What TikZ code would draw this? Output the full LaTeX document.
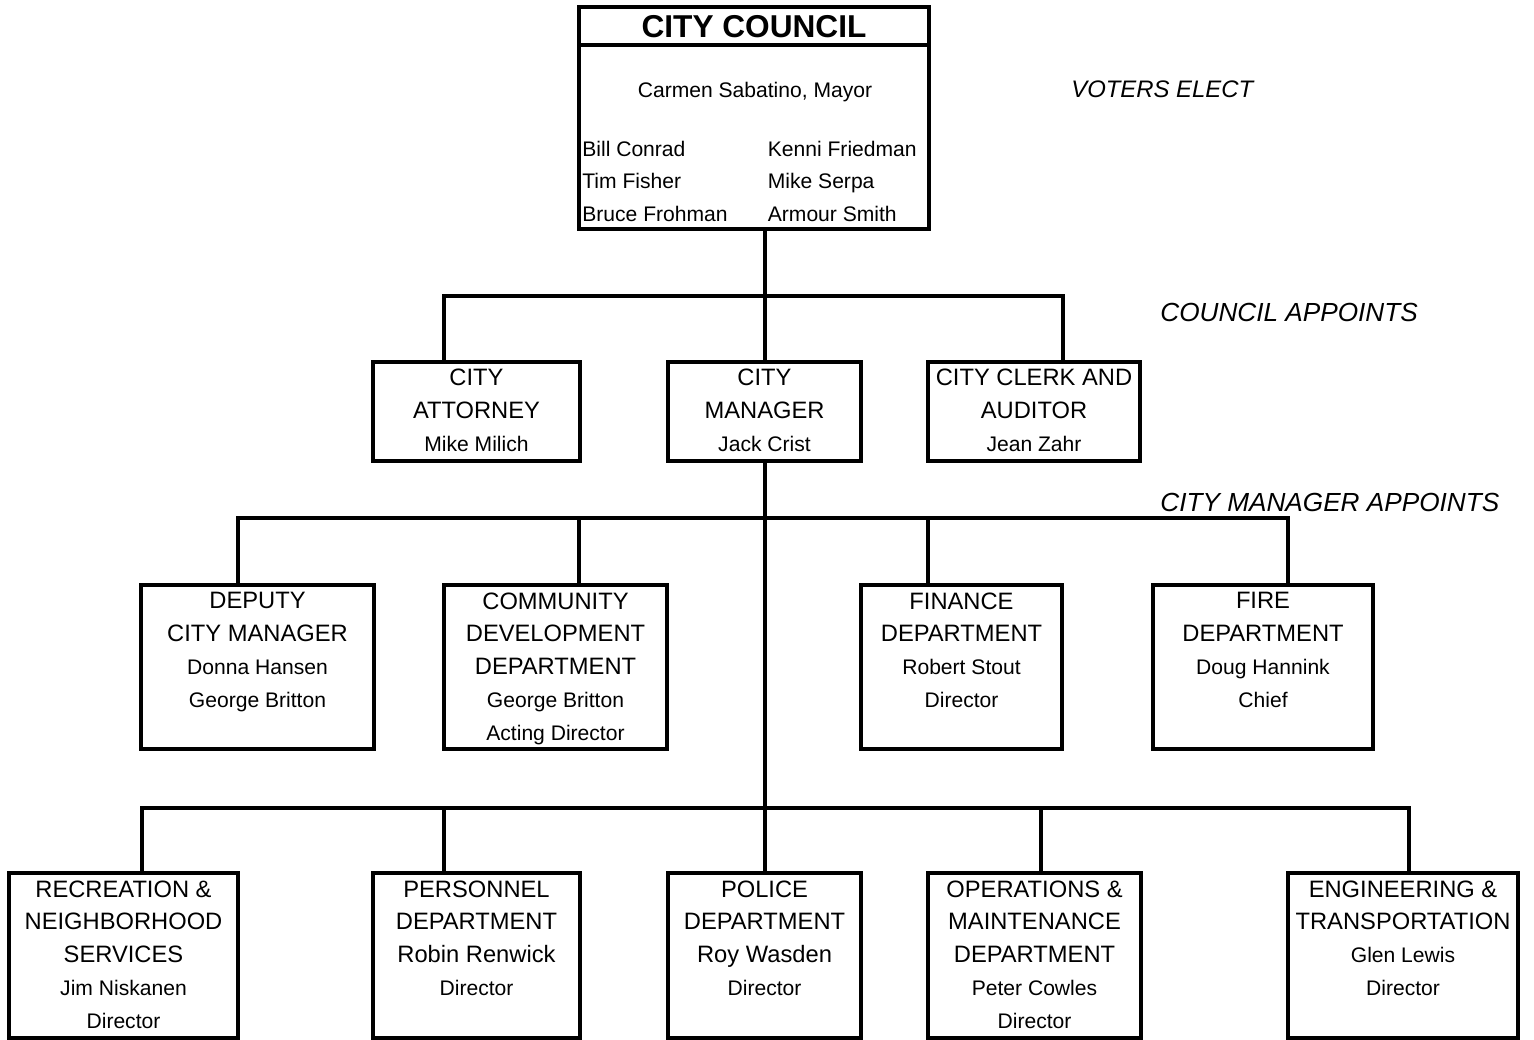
\documentclass[tikz,border=0pt]{standalone}
\usepackage{fontspec}
\setmainfont{Liberation Sans}
\usepackage{tikz}
\usetikzlibrary{positioning, calc}
\newcommand{\nm}[1]{{\fontsize{12}{18.7}\selectfont #1}}
\tikzset{
    unit/.style={draw, rectangle, line width=2.2pt, inner sep=0pt},
    head/.style={anchor=north, align=center, inner sep=0pt, font=\fontsize{13.5}{18.7}\selectfont},
    members/.style={anchor=north west, align=left, inner sep=0pt, font=\fontsize{12}{18.7}\selectfont},
    side/.style={anchor=west, inner sep=0pt, font=\itshape\fontsize{14.9}{18}\selectfont},
    conn/.style={-, line width=2.2pt},
}
\begin{document}
\begin{tikzpicture}[x=0.02cm, y=-0.02cm]
        \useasboundingbox (0,0) rectangle (1534,1040);

        % council
        \node [unit, minimum width=7cm, minimum height=4.44cm] (council) at (754,118) {};
        \draw [conn] ($(council.north west)+(0,40)$) -- ($(council.north east)+(0,40)$);
        \node [inner sep=0pt, font=\bfseries\fontsize{18}{20}\selectfont] (cctitle) at (754,27) {CITY COUNCIL};
        \node [anchor=base, inner sep=0pt, font=\fontsize{12}{18.7}\selectfont] (mayor) at (755,97.5) {Carmen Sabatino, Mayor};
        \node [members] (mleft) at (582,140.5) {Bill Conrad\\Tim Fisher\\Bruce Frohman};
        \node [members] (mright) at (767.5,140.5) {Kenni Friedman\\Mike Serpa\\Armour Smith};

        % council appoints
        \node [unit, minimum width=4.14cm, minimum height=1.98cm] (att) at (476.5,411.5) {};
        \node [unit, minimum width=3.86cm, minimum height=1.98cm] (mgr) at (764.5,411.5) {};
        \node [unit, minimum width=4.24cm, minimum height=1.98cm] (clerk) at (1034,411.5) {};
        \node [head] (attT) at ($(att.north)+(0,9)$) {CITY\\ATTORNEY\\\nm{Mike Milich}};
        \node [head] (mgrT) at ($(mgr.north)+(0,9)$) {CITY\\MANAGER\\\nm{Jack Crist}};
        \node [head] (clerkT) at ($(clerk.north)+(0,9)$) {CITY CLERK AND\\AUDITOR\\\nm{Jean Zahr}};

        % manager appoints
        \node [unit, minimum width=4.66cm, minimum height=3.28cm] (deputy) at (257.5,667) {};
        \node [unit, minimum width=4.46cm, minimum height=3.28cm] (comdev) at (555.5,667) {};
        \node [unit, minimum width=4.02cm, minimum height=3.28cm] (finance) at (961.5,667) {};
        \node [unit, minimum width=4.40cm, minimum height=3.28cm] (fire) at (1263,667) {};
        \node [head] (deputyT) at ($(deputy.north)+(0,9)$) {DEPUTY\\CITY MANAGER\\\nm{Donna Hansen}\\\nm{George Britton}};
        \node [head] (comdevT) at ($(comdev.north)+(0,9)$) {COMMUNITY\\DEVELOPMENT\\DEPARTMENT\\\nm{George Britton}\\\nm{Acting Director}};
        \node [head] (financeT) at ($(finance.north)+(0,9)$) {FINANCE\\DEPARTMENT\\\nm{Robert Stout}\\\nm{Director}};
        \node [head] (fireT) at ($(fire.north)+(0,9)$) {FIRE\\DEPARTMENT\\\nm{Doug Hannink}\\\nm{Chief}};

        \node [unit, minimum width=4.58cm, minimum height=3.30cm] (rec) at (123.5,955.5) {};
        \node [unit, minimum width=4.14cm, minimum height=3.30cm] (pers) at (476.5,955.5) {};
        \node [unit, minimum width=3.86cm, minimum height=3.30cm] (police) at (764.5,955.5) {};
        \node [unit, minimum width=4.26cm, minimum height=3.30cm] (ops) at (1034.5,955.5) {};
        \node [unit, minimum width=4.60cm, minimum height=3.30cm] (eng) at (1403,955.5) {};
        \node [head] (recT) at ($(rec.north)+(0,9)$) {RECREATION \&\\NEIGHBORHOOD\\SERVICES\\\nm{Jim Niskanen}\\\nm{Director}};
        \node [head] (persT) at ($(pers.north)+(0,9)$) {PERSONNEL\\DEPARTMENT\\Robin Renwick\\\nm{Director}};
        \node [head] (policeT) at ($(police.north)+(0,9)$) {POLICE\\DEPARTMENT\\Roy Wasden\\\nm{Director}};
        \node [head] (opsT) at ($(ops.north)+(0,9)$) {OPERATIONS \&\\MAINTENANCE\\DEPARTMENT\\\nm{Peter Cowles}\\\nm{Director}};
        \node [head] (engT) at ($(eng.north)+(0,9)$) {ENGINEERING \&\\TRANSPORTATION\\\nm{Glen Lewis}\\\nm{Director}};

        \node [side, font=\itshape\fontsize{13.6}{18}\selectfont] (voters) at (1071,89) {VOTERS ELECT};
        \node [side] (capp) at (1160,312) {COUNCIL APPOINTS};
        \node [side] (mapp) at (1160,502) {CITY MANAGER APPOINTS};

        \coordinate (u1) at (444,296);
        \coordinate (u2) at (765,296);
        \coordinate (u3) at (1063,296);
        \coordinate (v1) at (238,518);
        \coordinate (v2) at (579,518);
        \coordinate (v3) at (928,518);
        \coordinate (v4) at (1288,518);
        \coordinate (w1) at (142,808);
        \coordinate (w2) at (444,808);
        \coordinate (w4) at (1041,808);
        \coordinate (w5) at (1409,808);

        \draw[conn] (council.south -| u2) -- (mgr.north -| u2);
        \draw[conn] (att.north -| u1) -- (u1) -- (u3) -- (clerk.north -| u3);

        \draw[conn] (mgr.south -| u2) -- (police.north -| u2);
        \draw[conn] (deputy.north -| v1) -- (v1) -- (v4) -- (fire.north -| v4);
        \draw[conn] (v2) -- (comdev.north -| v2);
        \draw[conn] (v3) -- (finance.north -| v3);

        \draw[conn] (rec.north -| w1) -- (w1) -- (w5) -- (eng.north -| w5);
        \draw[conn] (w2) -- (pers.north -| w2);
        \draw[conn] (w4) -- (ops.north -| w4);
\end{tikzpicture}
\end{document}
